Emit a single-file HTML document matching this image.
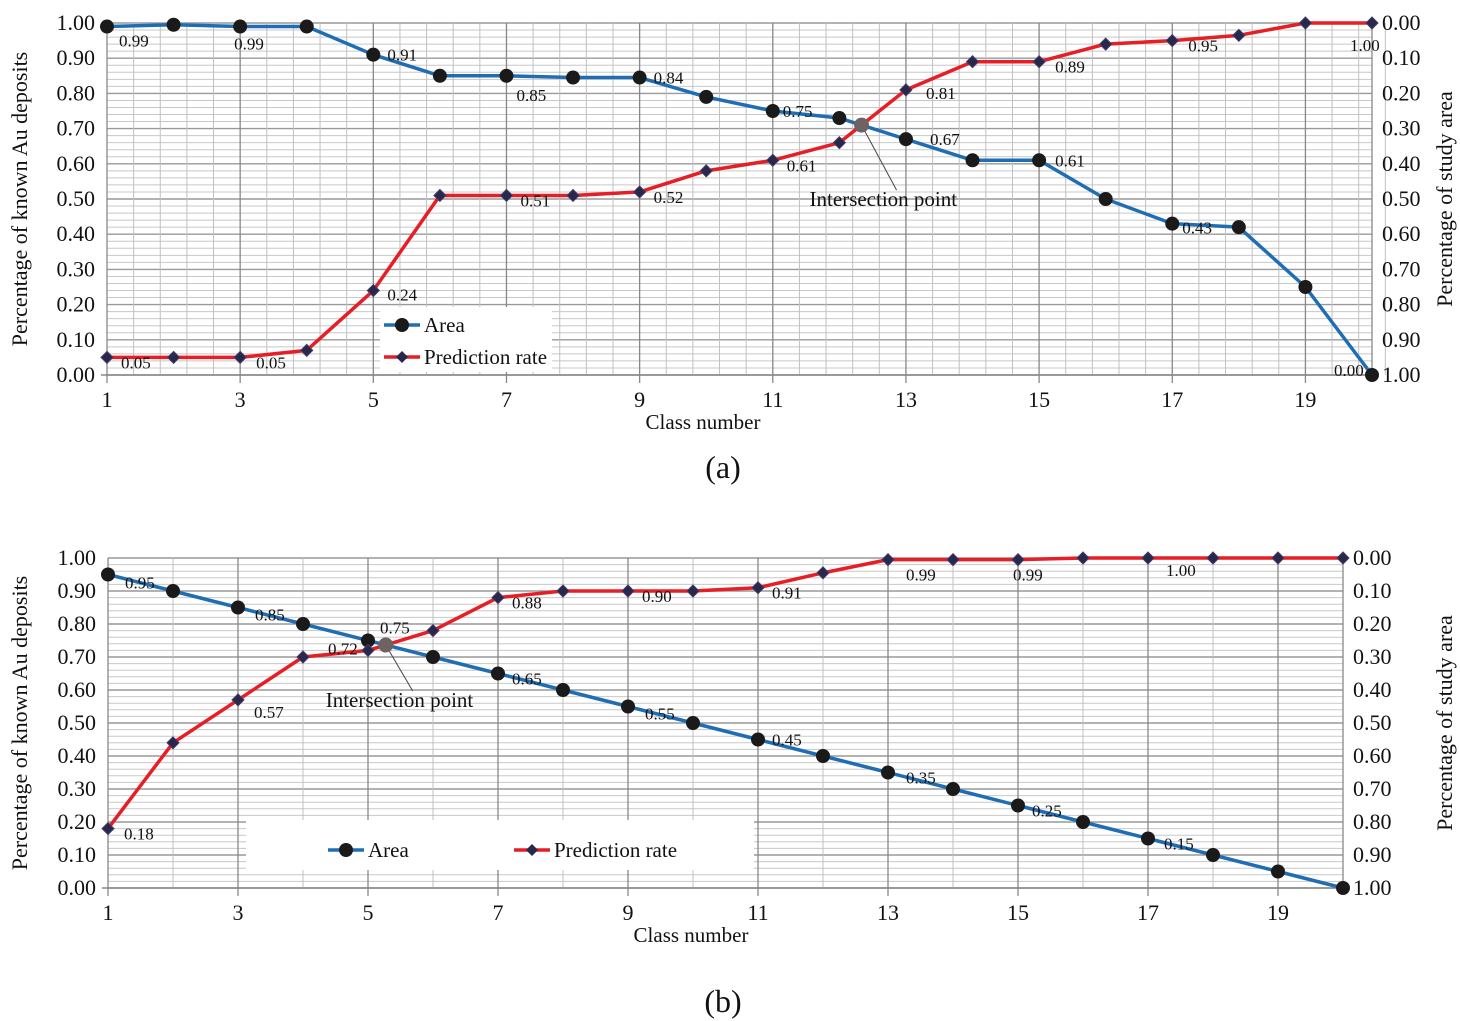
<!DOCTYPE html>
<html><head><meta charset="utf-8"><style>
html,body{margin:0;padding:0;background:#fff;}
svg{display:block;font-family:"Liberation Serif",serif;}
</style></head><body>
<svg id="svg" width="1460" height="1021" viewBox="0 0 1460 1021"></svg>
<script>
const classes = [1,2,3,4,5,6,7,8,9,10,11,12,13,14,15,16,17,18,19,20];
const xTickLabels = ["1","3","5","7","9","11","13","15","17","19"];
const yTickLabelsLeft = ["0.00","0.10","0.20","0.30","0.40","0.50","0.60","0.70","0.80","0.90","1.00"];
const yTickLabelsRight = ["1.00","0.90","0.80","0.70","0.60","0.50","0.40","0.30","0.20","0.10","0.00"];
const areaA = [0.99,0.995,0.99,0.99,0.91,0.85,0.85,0.845,0.845,0.79,0.75,0.73,0.67,0.61,0.61,0.50,0.43,0.42,0.25,0.00];
const predA = [0.05,0.05,0.05,0.07,0.24,0.51,0.51,0.51,0.52,0.58,0.61,0.66,0.81,0.89,0.89,0.94,0.95,0.965,1.00,1.00];
const areaB = [0.95,0.90,0.85,0.80,0.75,0.70,0.65,0.60,0.55,0.50,0.45,0.40,0.35,0.30,0.25,0.20,0.15,0.10,0.05,0.00];
const predB = [0.18,0.44,0.57,0.70,0.72,0.78,0.88,0.90,0.90,0.90,0.91,0.955,0.995,0.995,0.995,1.00,1.00,1.00,1.00,1.00];
// labels: [index, dx, dy]
const areaALabels = [[0,12,14],[2,-6,17],[4,14,0],[6,10,19],[8,14,0],[10,10,0],[12,24,0],[14,16,0],[16,10,4],[19,-38,-5]];
const predALabels = [[0,14,5],[2,16,5],[4,14,4],[6,14,5],[8,14,5],[10,14,5],[12,20,3],[14,16,5],[16,16,5],[19,-22,22]];
const areaBLabels = [[0,17,8],[2,17,7],[4,12,-13],[6,14,5],[8,17,7],[10,14,0],[12,18,5],[14,14,5],[16,16,5]];
const predBLabels = [[0,16,5],[2,16,12],[4,-40,-2],[6,14,5],[8,14,5],[10,14,5],[12,18,15],[14,-5,15],[16,18,12]];

const svg = document.getElementById('svg');
const NS = 'http://www.w3.org/2000/svg';
function mk(tag, attrs, parent, text){
  const e = document.createElementNS(NS, tag);
  for (const k in attrs) e.setAttribute(k, attrs[k]);
  if (text !== undefined) e.textContent = text;
  (parent||svg).appendChild(e);
  return e;
}

function chart(cfg){
  const g = mk('g', {});
  
  
  const x = c => cfg.x0 + (c-1)*(cfg.x1-cfg.x0)/19;
  const y = v => cfg.y0 - v*(cfg.y0-cfg.y1);
  for (let i=0;i<=50;i++){
    const v=i/50, major = i%5===0;
    const l = mk('line',{x1:cfg.x0,x2:cfg.x1,y1:y(v),y2:y(v),stroke:major?'#999':'#c8c8c8','stroke-width':major?1.4:1},g);
    
    
  }
  const steps = 19/cfg.vstep;
  for (let i=0;i<=Math.round(steps);i++){
    const c = 1+i*cfg.vstep;
    const major = Math.abs((c-1)/2 - Math.round((c-1)/2))<1e-6;
    const l = mk('line',{x1:x(c),x2:x(c),y1:cfg.y1,y2:cfg.y0+(major?8:0),stroke:major?'#888':'#c0c0c0','stroke-width':major?1.3:1},g);
    
    
  }
  mk('line',{x1:cfg.x0-6,x2:cfg.x1,y1:cfg.y0,y2:cfg.y0,stroke:'#888','stroke-width':1.5},g);
  mk('line',{x1:cfg.x1,x2:cfg.x1,y1:cfg.y1,y2:cfg.y0,stroke:'#888','stroke-width':1.3},g);
  const lb = mk('rect',{x:cfg.leg.x,y:cfg.leg.y,width:cfg.leg.w,height:cfg.leg.h,fill:'#fff'},g);
  
  
  xTickLabels.forEach((t)=>{
    const tt = mk('text',{x:x(+t),y:cfg.y0+32,'font-size':22,'text-anchor':'middle',fill:'#111'},g,t);
    
    
  });
  yTickLabelsLeft.forEach((t,i)=>{
    const tt = mk('text',{x:cfg.x0-12,y:y(i/10)+7,'font-size':22,'text-anchor':'end',fill:'#111'},g,t);
    
    
  });
  yTickLabelsRight.forEach((t,i)=>{
    const tt = mk('text',{x:cfg.x1+10,y:y(i/10)+7,'font-size':22,'text-anchor':'start',fill:'#111'},g,t);
    
    
  });
  const xt = mk('text',{x:cfg.xtX,y:cfg.y0+54,'font-size':21,'text-anchor':'middle',fill:'#111'},g,'Class number');
   
  const ymid=(cfg.y0+cfg.y1)/2;
  const yt = mk('text',{x:0,y:0,'font-size':22,'text-anchor':'middle',fill:'#111',transform:`translate(27,${ymid}) rotate(-90)`},g,'Percentage of known Au deposits');
   
  const yr = mk('text',{x:0,y:0,'font-size':22,'text-anchor':'middle',fill:'#111',transform:`translate(1452,${ymid}) rotate(-90)`},g,'Percentage of study area');
   
  const pts = arr => arr.map((v,i)=>x(classes[i])+','+y(v)).join(' ');
  const la = mk('polyline',{points:pts(cfg.area),fill:'none',stroke:'#1f6eb4','stroke-width':3.5,'stroke-linejoin':'round'},g);
   
  const lp = mk('polyline',{points:pts(cfg.pred),fill:'none',stroke:'#e61e25','stroke-width':3.5,'stroke-linejoin':'round'},g);
   
  cfg.area.forEach((v,i)=>{
    const c = mk('circle',{cx:x(classes[i]),cy:y(v),r:7,fill:'#1a1a1a'},g);
     
  });
  cfg.pred.forEach((v,i)=>{
    const px=x(classes[i]), py=y(v);
    const d = mk('polygon',{points:`${px},${py-6} ${px+6},${py} ${px},${py+6} ${px-6},${py}`,fill:'#27284a',stroke:'#4b3a6a','stroke-width':1},g);
     
  });
  cfg.areaLabels.forEach(([i,dx,dy])=>{
    const t = mk('text',{x:x(classes[i])+dx,y:y(cfg.area[i])+dy+6,'font-size':17,fill:'#111'},g,cfg.area[i].toFixed(2));
     
  });
  cfg.predLabels.forEach(([i,dx,dy])=>{
    const t = mk('text',{x:x(classes[i])+dx,y:y(cfg.pred[i])+dy+6,'font-size':17,fill:'#111'},g,cfg.pred[i].toFixed(2));
     
  });
  let ix=null, iy=null;
  for (let i=0;i<19;i++){
    const d0=cfg.area[i]-cfg.pred[i], d1=cfg.area[i+1]-cfg.pred[i+1];
    if (d0>=0 && d1<0){ const f=d0/(d0-d1); ix=x(classes[i]+f); iy=y(cfg.area[i]+f*(cfg.area[i+1]-cfg.area[i])); break; }
  }
  if (ix!==null){
    mk('line',{x1:ix,y1:iy,x2:ix+cfg.ipLab.dx+35,y2:iy+cfg.ipLab.dy-16,stroke:'#444','stroke-width':1},g);
    const ip = mk('circle',{cx:ix,cy:iy,r:7.5,fill:'#6e6262'},g);
     
    const it = mk('text',{x:ix+cfg.ipLab.dx-52,y:iy+cfg.ipLab.dy,'font-size':21,fill:'#111'},g,'Intersection point');
     
  }
  const L=cfg.leg;
  mk('line',{x1:L.ax,x2:L.ax+36,y1:L.ay,y2:L.ay,stroke:'#1f6eb4','stroke-width':3.5},g);
  mk('circle',{cx:L.ax+18,cy:L.ay,r:7,fill:'#1a1a1a'},g);
  const t1=mk('text',{x:L.ax+40,y:L.ay+7,'font-size':21,fill:'#111'},g,'Area');
   
  mk('line',{x1:L.px,x2:L.px+36,y1:L.py,y2:L.py,stroke:'#e61e25','stroke-width':3.5},g);
  mk('polygon',{points:`${L.px+18},${L.py-6} ${L.px+24},${L.py} ${L.px+18},${L.py+6} ${L.px+12},${L.py}`,fill:'#27284a'},g);
  const t2=mk('text',{x:L.px+40,y:L.py+7,'font-size':21,fill:'#111'},g,'Prediction rate');
   
  const cap = mk('text',{x:723,y:cfg.capY,'font-size':32,'text-anchor':'middle',fill:'#111'},g,cfg.cap);
   
}

chart({name:'chart-a',x0:107,x1:1372,y0:375,y1:23,vstep:0.4,area:areaA,pred:predA,
  areaLabels:areaALabels,predLabels:predALabels,xtX:703,
  leg:{x:380,y:307,w:172,h:65,ax:384,ay:325,px:384,py:357},
  ipLab:{dx:0,dy:81},cap:'(a)',capY:478});
chart({name:'chart-b',x0:108,x1:1343,y0:888,y1:558,vstep:1,area:areaB,pred:predB,
  areaLabels:areaBLabels,predLabels:predBLabels,xtX:691,
  leg:{x:246,y:820,w:508,h:50,ax:328,ay:850,px:514,py:850},
  ipLab:{dx:-8,dy:62},cap:'(b)',capY:1012});
</script>
</body></html>
